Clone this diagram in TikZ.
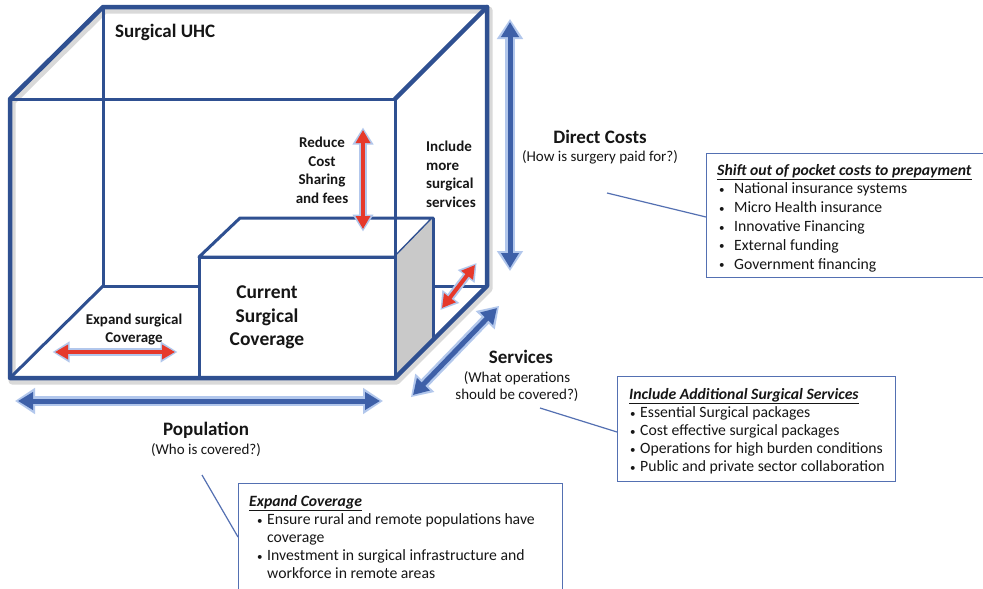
\documentclass[tikz,border=0pt]{standalone}
\usepackage{fontspec}
\setmainfont{Carlito}
\usetikzlibrary{arrows.meta,calc}

\definecolor{cubeblue}{RGB}{47,80,145}
\definecolor{arrowblue}{RGB}{62,96,168}
\definecolor{glowblue}{RGB}{178,199,236}
\definecolor{arrowred}{RGB}{230,57,43}
\definecolor{sidegray}{RGB}{201,201,201}
\definecolor{calloutblue}{RGB}{84,112,178}
\definecolor{inktext}{RGB}{22,22,22}

\newcommand\fsz[2]{\fontsize{#1}{#2}\selectfont}
% bullet line: offset of the bullet, width reserved for it, item text
\newcommand\bul[3]{\hspace*{#1}\makebox[#2][l]{\raisebox{.5pt}{\fsz{11}{11}\textbullet}}#3}

\begin{document}
\begin{tikzpicture}[x=1pt,y=-1pt,
  cubeedge/.style={draw=cubeblue, line width=4.5pt, line cap=round, line join=round},
  cubeinner/.style={draw=cubeblue, line width=3pt, line cap=round, line join=round},
  cubeshadow/.style={draw=black, opacity=.15, line width=7pt, line cap=round, line join=round},
  boxedge/.style={draw=cubeblue, line width=3pt, line join=round},
  bigarrow/.style={draw=arrowblue, line width=5pt,
    {Triangle[length=15pt,width=17pt]}-{Triangle[length=15pt,width=17pt]},
    preaction={draw=glowblue, line width=10pt,
      {Triangle[length=20pt,width=25pt]}-{Triangle[length=20pt,width=25pt]},
      shorten <=-3pt, shorten >=-3pt}},
  redarrow/.style={draw=arrowred, line width=4pt,
    {Triangle[length=13pt,width=14pt]}-{Triangle[length=13pt,width=14pt]},
    preaction={draw=glowblue, line width=8pt,
      {Triangle[length=17pt,width=20pt]}-{Triangle[length=17pt,width=20pt]},
      shorten <=-2.5pt, shorten >=-2.5pt}},
  pointer/.style={draw=calloutblue, line width=1.2pt},
  calloutbox/.style={draw=calloutblue, line width=1.3pt, fill=white, inner sep=0pt, anchor=north west},
  lbl/.style={text=inktext, inner sep=0pt},
  listtext/.style={text=inktext, inner sep=0pt, align=left, anchor=north west}
]
\clip (0,0) rectangle (983,589);
\fill[white] (0,0) rectangle (983,589);

% outer cube corners (front face, back face)
\coordinate (FTL) at (10,99);
\coordinate (FTR) at (395,99);
\coordinate (FBR) at (395,378);
\coordinate (FBL) at (10,378);
\coordinate (BTL) at (103,7);
\coordinate (BTR) at (487,7);
\coordinate (BBR) at (487,286);
\coordinate (BBL) at (103,286);
% inner box corners
\coordinate (CFTL) at (199,257);
\coordinate (CFTR) at (395,257);
\coordinate (CFBL) at (199,378);
\coordinate (CFBR) at (395,378);
\coordinate (CBTL) at (240,218);
\coordinate (CBTR) at (433,218);
\coordinate (CSB)  at (433,340);

% soft shadow of the outer cube
\draw[cubeshadow] ([shift={(2,3)}]FBL) -- ([shift={(2,3)}]FTL) -- ([shift={(2,3)}]BTL)
  -- ([shift={(2,3)}]BTR) -- ([shift={(2,3)}]BBR) -- ([shift={(2,3)}]FBR) -- cycle;

% hidden edges of the outer cube
\draw[cubeinner] (BTL) -- (BBL) -- (BBR);
\draw[cubeinner] (BBL) -- (FBL);

% inner box: current coverage
\draw[boxedge, fill=white] (CFBL) rectangle (CFTR);
\draw[boxedge, fill=white] (CFTL) -- (CBTL) -- (CBTR) -- (CFTR) -- cycle;
\fill[sidegray] (CFTR) -- (CBTR) -- (CSB) -- (CFBR) -- cycle;
\draw[boxedge] (CBTR) -- (CSB);

% visible edges of the outer cube
\draw[cubeinner] (FTL) -- (FTR) -- (FBR);
\draw[cubeedge] (FTR) -- (BTR);
\draw[cubeedge] (FBR) -- (FBL) -- (FTL) -- (BTL) -- (BTR) -- (BBR) -- cycle;

% dimension arrows
\coordinate (dcTop) at (510,22);
\coordinate (dcBot) at (510,268);
\coordinate (svA) at (413,395);
\coordinate (svB) at (497,308);
\coordinate (popL) at (18,401);
\coordinate (popR) at (380,401);
\draw[bigarrow] (dcTop) -- (dcBot);
\draw[bigarrow] (svA) -- (svB);
\draw[bigarrow] (popL) -- (popR);

% expansion arrows
\coordinate (rcTop) at (363,130);
\coordinate (rcBot) at (363,229);
\coordinate (exL) at (55,352);
\coordinate (exR) at (175,352);
\coordinate (isA) at (442,308);
\coordinate (isB) at (475,265);
\draw[redarrow] (rcTop) -- (rcBot);
\draw[redarrow] (exL) -- (exR);
\draw[redarrow] (isA) -- (isB);

% labels inside the cube
\node[lbl, font=\bfseries\fsz{19}{22}, anchor=west] (uhc) at (115,32) {Surgical UHC};
\node[lbl, font=\bfseries\fsz{15}{18.5}, align=center] (reduce) at (322,170.5) {Reduce\\Cost\\Sharing\\and fees};
\node[lbl, font=\bfseries\fsz{15}{18.5}, align=left, anchor=west] (include) at (426,174.5) {Include\\more\\surgical\\services};
\node[lbl, font=\bfseries\fsz{19.5}{23.5}, align=center] (current) at (267,317.5) {Current\\Surgical\\Coverage};
\node[lbl, font=\bfseries\fsz{15}{18}, align=center] (expand) at (134,330) {Expand surgical\\Coverage};

% axis labels
\node[lbl, font=\bfseries\fsz{19}{22}] (dc) at (600,137) {Direct Costs};
\node[lbl, font=\fsz{15}{18}] (dcq) at (600,157) {(How is surgery paid for?)};
\node[lbl, font=\bfseries\fsz{19}{22}] (svc) at (521,357) {Services};
\node[lbl, font=\fsz{15}{17}, align=center] (svcq) at (517,386.5) {(What operations\\should be covered?)};
\node[lbl, font=\bfseries\fsz{19}{22}] (pop) at (206,430) {Population};
\node[lbl, font=\fsz{15}{18}] (popq) at (206,450) {(Who is covered?)};

% call-out boxes
\node[calloutbox, minimum width=300pt, minimum height=124pt] (dcbox) at (706,153) {};
\node[calloutbox, minimum width=278pt, minimum height=105pt] (svcbox) at (617,376) {};
\node[calloutbox, minimum width=324pt, minimum height=130pt] (popbox) at (238,483) {};

\node[listtext, font=\fsz{15.7}{18.8}] (dclist) at (717,161.8) {%
\underline{\textbf{\textit{Shift out of pocket costs to prepayment}}}\strut\\
\bul{2pt}{15pt}{National insurance systems}\\
\bul{2pt}{15pt}{Micro Health insurance}\\
\bul{2pt}{15pt}{Innovative Financing}\\
\bul{2pt}{15pt}{External funding}\\
\bul{2pt}{15pt}{Government financing}};

\node[listtext, font=\fsz{15.7}{18}] (svclist) at (629,386.8) {%
\underline{\textbf{\textit{Include Additional Surgical Services}}}\strut\\
\bul{1pt}{10pt}{Essential Surgical packages}\\
\bul{1pt}{10pt}{Cost effective surgical packages}\\
\bul{1pt}{10pt}{Operations for high burden conditions}\\
\bul{1pt}{10pt}{Public and private sector collaboration}};

\node[listtext, font=\fsz{15.7}{18}] (poplist) at (249,493.8) {%
\underline{\textbf{\textit{Expand Coverage}}}\strut\\
\bul{8pt}{10pt}{Ensure rural and remote populations have}\\
\hspace*{18pt}coverage\\
\bul{8pt}{10pt}{Investment in surgical infrastructure and}\\
\hspace*{18pt}workforce in remote areas};

% pointer lines from the axis labels to their boxes
\coordinate (dcptr) at (607,193);
\coordinate (svcptr) at (540,408);
\coordinate (popptr) at (202,475);
\draw[pointer] (dcptr) -- ($(dcbox.north west)+(0,64)$);
\draw[pointer] (svcptr) -- ($(svcbox.north west)+(0,56)$);
\draw[pointer] (popptr) -- ($(popbox.north west)+(0,54)$);
\end{tikzpicture}
\end{document}
